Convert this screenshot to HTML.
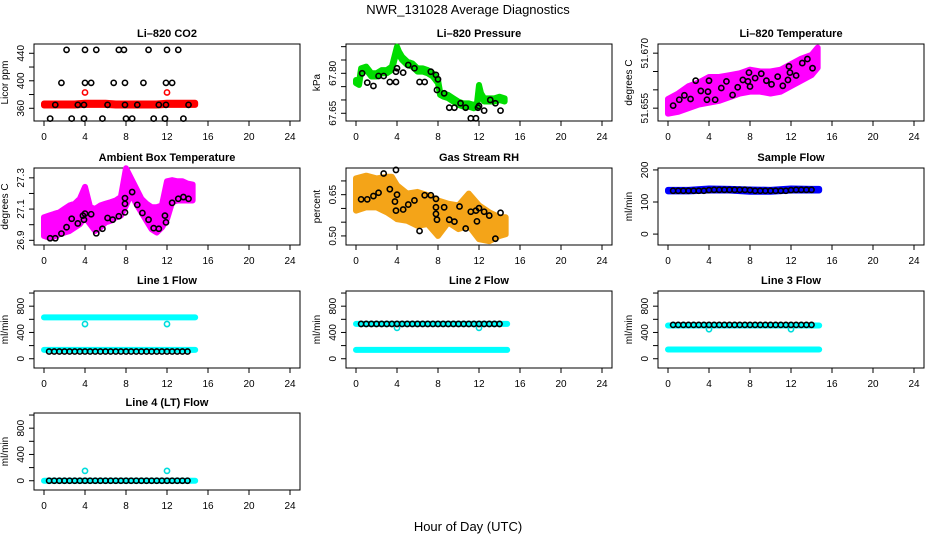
<!DOCTYPE html>
<html><head><meta charset="utf-8">
<style>
html,body{margin:0;padding:0;background:#fff;}
svg{display:block;font-family:"Liberation Sans",Arial,sans-serif;}
</style></head>
<body>
<svg id="chart" width="936" height="540" viewBox="0 0 936 540">
<text x="468" y="14" text-anchor="middle" font-size="13">NWR_131028  Average Diagnostics</text>
<text x="468" y="531" text-anchor="middle" font-size="13">Hour of Day (UTC)</text>
</svg>
<script>
// ---------- shared tick data ----------
const xTicks = [0,4,8,12,16,20,24];

// ---------- Li-820 CO2 ----------
const co2BandX = [0,1,2,3,4,5,6,7,8,9,10,11,12,13,14,14.75];
const co2BandHi = [367,367,367,367,368,368,368,367,367,367,367,367,368,368,368,368];
const co2BandLo = [364,364,364,364,365,365,365,364,364,364,364,364,365,365,365,365];
const co2RedX = [4,12];
const co2RedY = [383,383];
const co2BlackX = [2.2,4,5.1,7.3,7.8,10.2,12,13.1, 1.7,4,4.6,6.8,7.9,9.7,11.9,12.5, 1.1,3.3,3.9,6.2,7.9,9.1,11.2,11.9,14.1, 0.6,2.7,3.9,5.7,8,8.6,10.7,11.8,13.6];
const co2BlackY = [445,445,445,445,445,445,445,445, 397,397,397,397,397,397,397,397, 365,365,365,365,365,365,365,365,365, 345,345,345,345,345,345,345,345,345];

// ---------- Li-820 Pressure ----------
const presBandX = [0,0.3,0.5,1,1.5,2,2.5,3,3.5,4,4.2,4.5,5,5.5,6,6.5,7,7.5,8,8.2,8.5,9,9.5,10,10.5,11,11.5,11.8,12,12.2,12.5,13,13.5,14,14.5];
const presBandY = [67.769,67.7625,67.8125,67.819,67.794,67.794,67.806,67.806,67.819,67.894,67.875,67.856,67.8375,67.831,67.8125,67.8125,67.806,67.794,67.769,67.725,67.719,67.7125,67.70,67.6875,67.681,67.681,67.675,67.681,67.75,67.719,67.70,67.70,67.70,67.706,67.70];
const presBlackX = [0.6,1.1,1.7,2.2,2.7,3.3,3.9,3.9,4,4.6,5.1,5.7,6.2,6.7,7.3,7.8,8,7.9,8.6,9.1,9.6,10.2,10.7,11.2,11.7,11.9,12,12.5,13.1,13.6,14.1];
const presBlackY = [67.80,67.765,67.7525,67.79,67.79,67.7675,67.7675,67.806,67.819,67.8025,67.831,67.819,67.7675,67.7675,67.806,67.794,67.7775,67.7375,67.725,67.671,67.671,67.6875,67.671,67.631,67.631,67.671,67.6775,67.66,67.70,67.6875,67.66];

// ---------- Li-820 Temperature ----------
const tempBandX = [0,1,2,3,4,5,6,7,8,9,10,11,12,13,14,14.6];
const tempBandHi = [51.6575,51.659,51.661,51.662,51.6635,51.6635,51.664,51.6645,51.6655,51.665,51.665,51.6655,51.667,51.6685,51.6695,51.6715];
const tempBandLo = [51.6535,51.654,51.655,51.656,51.6565,51.657,51.658,51.659,51.6595,51.6595,51.659,51.6595,51.661,51.6625,51.664,51.666];
const tempBlackX = [0.5,1.1,1.6,2.2,2.7,3.2,3.8,3.9,4,4.6,5.2,5.7,6.3,6.8,7.3,7.8,7.9,8,8.5,9.1,9.6,10.1,10.7,11.2,11.7,11.8,11.9,12.5,13.1,13.6,14.1];
const tempBlackY = [51.6557,51.6573,51.6585,51.6575,51.6625,51.6597,51.6573,51.6595,51.6625,51.6573,51.6605,51.6623,51.6586,51.6607,51.6627,51.6623,51.6647,51.6609,51.6632,51.6644,51.6625,51.6615,51.6636,51.6611,51.6627,51.6664,51.6647,51.6639,51.6673,51.6684,51.6659];

// ---------- Ambient Box Temperature ----------
const ambBandX = [0,0.5,1,1.5,2,2.5,3,3.5,4,4.5,5,5.5,6,6.5,7,7.5,8,8.5,9,9.5,10,10.5,11,11.5,12,12.5,13,13.5,14,14.5];
const ambBandHi = [27.047,27.058,27.069,27.079,27.101,27.123,27.134,27.166,27.242,27.112,27.101,27.123,27.134,27.144,27.155,27.177,27.361,27.296,27.231,27.166,27.134,27.112,27.112,27.123,27.278,27.285,27.278,27.278,27.263,27.257];
const ambBandLo = [26.928,26.917,26.924,26.939,26.950,26.960,26.982,27.004,27.047,27.004,26.960,26.982,27.015,27.025,27.047,27.058,27.123,27.198,27.134,27.079,27.025,26.971,26.950,26.982,27.036,27.144,27.155,27.155,27.155,27.155];
const ambBlackX = [0.6,1.1,1.7,2.2,2.7,3.3,3.9,3.8,4,4.6,5.1,5.7,6.2,6.7,7.3,7.9,7.9,7.9,8.6,9.1,9.6,10.2,10.7,11.2,11.8,11.9,12.5,13.1,13.6,14.1];
const ambBlackY = [26.913,26.913,26.943,26.984,27.038,27.008,27.032,27.058,27.071,27.067,26.945,26.974,27.043,27.032,27.054,27.079,27.134,27.170,27.209,27.127,27.075,27.032,26.978,26.974,27.058,27.015,27.140,27.166,27.177,27.166];

// ---------- Gas Stream RH ----------
const rhBandX = [0,1,2,3,3.5,4,5,6,7,8,9,10,11,12,13,14,14.6];
const rhBandHi = [0.709,0.719,0.709,0.715,0.715,0.684,0.654,0.660,0.648,0.629,0.617,0.611,0.654,0.611,0.586,0.568,0.568];
const rhBandLo = [0.592,0.604,0.604,0.586,0.574,0.561,0.555,0.537,0.543,0.500,0.549,0.525,0.537,0.488,0.481,0.500,0.506];
const rhBlackX = [0.5,1.1,1.7,2.2,2.7,3.3,3.8,3.9,4,3.9,4.6,5.1,5.7,6.2,6.7,7.3,7.8,7.8,7.8,7.9,8.6,9.1,9.6,10.1,10.7,11.2,11.7,11.8,12,12.5,13,13.6,14.1];
const rhBlackY = [0.633,0.633,0.645,0.657,0.727,0.670,0.625,0.740,0.650,0.592,0.596,0.614,0.629,0.518,0.648,0.648,0.635,0.604,0.580,0.559,0.604,0.559,0.552,0.607,0.527,0.588,0.592,0.553,0.601,0.588,0.574,0.490,0.584];

// ---------- Sample Flow ----------
const sfBandX = [0,2,4,6,8,10,12,14,14.75];
const sfBandHi = [138,138,142,141,139,138,142,141,141];
const sfBandLo = [133,133,136,136,132,132,136,136,136];
const sfBlackX = [0.5,1,1.5,2,2.5,3,3.5,4,4.5,5,5.5,6,6.5,7,7.5,8,8.5,9,9.5,10,10.5,11,11.5,12,12.5,13,13.5,14];
const sfBlackY = [135,135,135,135,135,135,135,137,138,138,138,138,138,138,138,137,135,135,135,135,135,135,135,137,138,138,138,138];

// ---------- Line flows ----------
const flowX = [0,4,8,12,14.75];
const flowBlackX = [0.5,1,1.5,2,2.5,3,3.5,4,4.5,5,5.5,6,6.5,7,7.5,8,8.5,9,9.5,10,10.5,11,11.5,12,12.5,13,13.5,14];
const spikeX = [4,12];
const l1CyanHi = [630,630,630,630,630];
const l1CyanLo = [135,135,135,135,135];
const l1Black = [110,110,110,110,110,110,110,110,110,110,110,110,110,110,110,110,110,110,110,110,110,110,110,110,110,110,110,110];
const l1Spike = [528,528];
const l2CyanHi = [530,530,530,530,530];
const l2CyanLo = [135,135,135,135,135];
const l2Black = [530,530,530,530,530,530,530,530,530,530,530,530,530,530,530,530,530,530,530,530,530,530,530,530,530,530,530,530];
const l2Spike = [470,470];
const l3CyanHi = [505,505,505,505,505];
const l3CyanLo = [140,140,140,140,140];
const l3Black = [515,515,515,515,515,515,515,515,515,515,515,515,515,515,515,515,515,515,515,515,515,515,515,515,515,515,515,515];
const l3Spike = [450,450];
const l4Cyan = [0,0,0,0,0];
const l4Black = [0,0,0,0,0,0,0,0,0,0,0,0,0,0,0,0,0,0,0,0,0,0,0,0,0,0,0,0];
const l4Spike = [150,150];

// ---------- rendering ----------
const NS = "http://www.w3.org/2000/svg";
const svg = document.getElementById("chart");
const COLS = [34,346,658], ROWS = [44,168,291,413], PW = 266, PH = 77;

function mk(tag, attrs, parent){
  const e = document.createElementNS(NS, tag);
  for (const k in attrs) e.setAttribute(k, attrs[k]);
  parent.appendChild(e);
  return e;
}

function makePanel(name, title, ytitle, col, row, ymin, ymax, yt, ylab){
  const L = COLS[col], T = ROWS[row];
  const g = mk("g", {}, svg);
  
  
  const xs = h => L + 10 + h * (246/24);
  const ys = v => T + PH - (v - ymin) / (ymax - ymin) * PH;
  const t = mk("text", {x: L + PW/2, y: T - 7, "text-anchor":"middle", "font-size":"11", "font-weight":"bold"}, g);
  t.textContent = title;
  
  
  // x axis
  const xa = mk("g", {}, g);
  
  
  xTicks.forEach(v => {
    mk("line", {x1: xs(v), x2: xs(v), y1: T+PH, y2: T+PH+5, stroke:"#000"}, xa);
    const tl = mk("text", {x: xs(v), y: T+PH+19, "text-anchor":"middle", "font-size":"10"}, xa);
    tl.textContent = v;
  });
  // y axis
  const ya = mk("g", {}, g);
  
  
  yt.forEach(v => {
    mk("line", {x1: L-5, x2: L, y1: ys(v), y2: ys(v), stroke:"#000"}, ya);
  });
  ylab.forEach(s => {
    const v = parseFloat(s);
    const tl = mk("text", {x: L-10, y: ys(v), "text-anchor":"middle", "font-size":"10",
      transform: "rotate(-90 " + (L-10) + " " + ys(v) + ")"}, ya);
    tl.textContent = s;
  });
  const yl = mk("text", {x: L-26, y: T+PH/2, "text-anchor":"middle", "font-size":"10",
    transform: "rotate(-90 " + (L-26) + " " + (T+PH/2) + ")"}, g);
  yl.textContent = ytitle;
  
  
  mk("rect", {x: L, y: T, width: PW, height: PH, fill:"none", stroke:"#000", "stroke-width":"1"}, g);
  return {g, xs, ys};
}

function band(p, name, xArr, hi, lo, color){
  let pts = xArr.map((x,i) => p.xs(x) + "," + p.ys(hi[i]));
  pts = pts.concat(xArr.slice().reverse().map((x,j) => {
    const i = xArr.length - 1 - j; return p.xs(x) + "," + p.ys(lo[i]);
  }));
  const e = mk("polygon", {points: pts.join(" "), fill: color, stroke: color, "stroke-width": "6", "stroke-linejoin":"round"}, p.g);
  
  
}

function points(p, name, xArr, yArr, color){
  const grp = mk("g", {}, p.g);
  
  
  xArr.forEach((x,i) => {
    mk("circle", {cx: p.xs(x), cy: p.ys(yArr[i]), r: 2.6, fill:"none", stroke: color, "stroke-width":"1.6"}, grp);
  });
}

const fTicks = [0,200,400,600,800,1000], fLab = ["0","400","800"];

// CO2
let p = makePanel("co2", "Li\u2013820 CO2", "Licor ppm", 0, 0, 341.5, 453.5, [360,380,400,420,440], ["360","400","440"]);
band(p, "co2-red-band", co2BandX, co2BandHi, co2BandLo, "#ff0000");
points(p, "co2-red-points", co2RedX, co2RedY, "#ff0000");
points(p, "co2-black-points", co2BlackX, co2BlackY, "#000");

// Pressure
p = makePanel("pressure", "Li\u2013820 Pressure", "kPa", 1, 0, 67.621, 67.91, [67.65,67.70,67.75,67.80,67.85,67.90], ["67.65","67.80"]);
band(p, "pressure-green-band", presBandX, presBandY.map(v=>v+0.006), presBandY.map(v=>v-0.006), "#00dd00");
points(p, "pressure-black-points", presBlackX, presBlackY, "#000");

// Temperature
p = makePanel("li820-temp", "Li\u2013820 Temperature", "degrees C", 2, 0, 51.6515, 51.6725, [51.655,51.660,51.665,51.670], ["51.655","51.670"]);
band(p, "li820-temp-magenta-band", tempBandX, tempBandHi, tempBandLo, "#ff00ff");
points(p, "li820-temp-black-points", tempBlackX, tempBlackY, "#000");

// Ambient
p = makePanel("ambient", "Ambient Box Temperature", "degrees C", 0, 1, 26.87, 27.363, [26.9,27.0,27.1,27.2,27.3], ["26.9","27.1","27.3"]);
band(p, "ambient-magenta-band", ambBandX, ambBandHi, ambBandLo, "#ff00ff");
points(p, "ambient-black-points", ambBlackX, ambBlackY, "#000");

// RH
p = makePanel("rh", "Gas Stream RH", "percent", 1, 1, 0.467, 0.747, [0.50,0.55,0.60,0.65,0.70], ["0.50","0.65"]);
band(p, "rh-orange-band", rhBandX, rhBandHi, rhBandLo, "#f4a418");
points(p, "rh-black-points", rhBlackX, rhBlackY, "#000");

// Sample flow
p = makePanel("sample-flow", "Sample Flow", "ml/min", 2, 1, -34, 206, [0,100,200], ["0","100","200"]);
band(p, "sample-flow-blue-band", sfBandX, sfBandHi, sfBandLo, "#0000ff");
points(p, "sample-flow-black-points", sfBlackX, sfBlackY, "#000");

// Line 1
p = makePanel("line1", "Line 1 Flow", "ml/min", 0, 2, -141, 1031, fTicks, fLab);
band(p, "line1-cyan-high", flowX, l1CyanHi, l1CyanHi, "#00ffff");
band(p, "line1-cyan-low", flowX, l1CyanLo, l1CyanLo, "#00ffff");
points(p, "line1-cyan-spikes", spikeX, l1Spike, "#00dddd");
points(p, "line1-black-points", flowBlackX, l1Black, "#000");

// Line 2
p = makePanel("line2", "Line 2 Flow", "ml/min", 1, 2, -141, 1031, fTicks, fLab);
band(p, "line2-cyan-high", flowX, l2CyanHi, l2CyanHi, "#00ffff");
band(p, "line2-cyan-low", flowX, l2CyanLo, l2CyanLo, "#00ffff");
points(p, "line2-cyan-spikes", spikeX, l2Spike, "#00dddd");
points(p, "line2-black-points", flowBlackX, l2Black, "#000");

// Line 3
p = makePanel("line3", "Line 3 Flow", "ml/min", 2, 2, -141, 1031, fTicks, fLab);
band(p, "line3-cyan-high", flowX, l3CyanHi, l3CyanHi, "#00ffff");
band(p, "line3-cyan-low", flowX, l3CyanLo, l3CyanLo, "#00ffff");
points(p, "line3-cyan-spikes", spikeX, l3Spike, "#00dddd");
points(p, "line3-black-points", flowBlackX, l3Black, "#000");

// Line 4
p = makePanel("line4", "Line 4 (LT) Flow", "ml/min", 0, 3, -141, 1031, fTicks, fLab);
band(p, "line4-cyan-band", flowX, l4Cyan, l4Cyan, "#00ffff");
points(p, "line4-cyan-spikes", spikeX, l4Spike, "#00dddd");
points(p, "line4-black-points", flowBlackX, l4Black, "#000");
</script>
</body></html>
